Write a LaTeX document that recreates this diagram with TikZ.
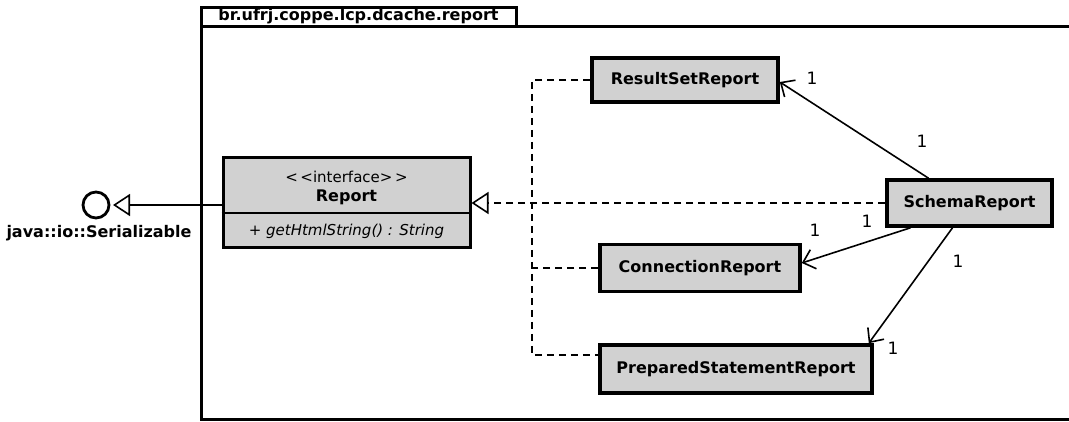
\documentclass[tikz,border=0pt]{standalone}
\usepackage{fontspec}
\setmainfont{DejaVu Sans}
\usetikzlibrary{arrows.meta}
\definecolor{clsgray}{gray}{0.82}
\begin{document}
\begin{tikzpicture}[x=1pt,y=-1pt,
  cls/.style={draw,line width=3.6pt,fill=clsgray,inner sep=0pt,
    font=\bfseries\fontsize{16}{18}\selectfont},
  mult/.style={inner sep=0pt,font=\fontsize{17}{19}\selectfont},
  dep/.style={line width=1.6pt,dash pattern=on 7pt off 5pt},
  assoc/.style={line width=1.6pt,-{Straight Barb[length=11pt,width=20pt,line width=1.6pt]}},
  realize/.style={-{Triangle[open,length=17pt,width=22pt,line width=1.6pt,fill=white]}},
  frame/.style={line width=3pt}]
\useasboundingbox (0,0) rectangle (1069,422);

% package frame with its name tab
\draw[frame] (201,27) rectangle (1090,419);
\node[draw,frame,minimum width=315,minimum height=19,inner sep=0pt,
  font=\bfseries\fontsize{16}{18}\selectfont] (pkg) at (358.5,17.5)
  {\underline{br.ufrj.coppe.lcp.dcache.report}};

% interface Report
\node[cls,line width=3pt,minimum width=247,minimum height=90] (rep) at (346.5,203) {};
\draw[line width=1.8pt] (rep.west |- 0,213) -- (rep.east |- 0,213);
\node[inner sep=0pt,font=\fontsize{15}{17}\selectfont] (stereo) at (346.5,177) {<\,<interface>\,>};
\node[inner sep=0pt,font=\bfseries\fontsize{16}{18}\selectfont] (repname) at (346.5,197) {Report};
\node[inner sep=0pt,font=\itshape\fontsize{15}{17}\selectfont] (op) at (346.5,231) {+ getHtmlString() : String};

% lollipop for java::io::Serializable
\node[draw,circle,line width=2.8pt,minimum size=26pt,inner sep=0pt] (ser) at (96,205) {};
\node[inner sep=0pt,font=\bfseries\fontsize{16}{18}\selectfont] (serlbl) at (99,233) {java::io::Serializable};
\coordinate (sertip) at (113,205);
\draw[line width=1.6pt,realize] (rep.west |- sertip) -- (sertip);

% implementing classes
\node[cls,minimum width=186,minimum height=44] (rsr) at (685,80) {ResultSetReport};
\node[cls,minimum width=165,minimum height=46] (sch) at (969.5,203) {SchemaReport};
\node[cls,minimum width=200,minimum height=47] (con) at (700,268) {ConnectionReport};
\node[cls,minimum width=272,minimum height=48] (pss) at (736,369) {PreparedStatementReport};

% realization tree
\coordinate (tx) at (532,0);
\coordinate (pssA) at ([yshift=14pt]pss.west);
\draw[dep,realize] (sch.west) -- (sch.west -| rep.east);
\draw[dep] (rsr.west) -- (rsr.west -| tx) -- (pssA -| tx) -- (pssA);
\draw[dep] (con.west) -- (con.west -| tx);

% associations from SchemaReport
\draw[assoc] ([xshift=-41pt]sch.north) -- ([yshift=-2pt]rsr.east);
\draw[assoc] ([xshift=-59pt]sch.south) -- ([yshift=5pt]con.east);
\draw[assoc] ([xshift=-17pt]sch.south) -- ([xshift=-5pt]pss.north east);

% multiplicities
\node[mult] (m1) at (812,78) {1};
\node[mult] (m2) at (922,141) {1};
\node[mult] (m3) at (815,230) {1};
\node[mult] (m4) at (867,221) {1};
\node[mult] (m5) at (958,261) {1};
\node[mult] (m6) at (893,348) {1};
\end{tikzpicture}
\end{document}
